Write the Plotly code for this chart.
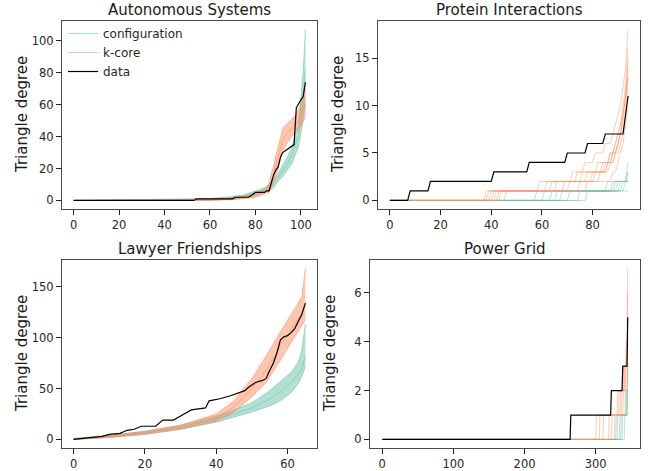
import plotly.graph_objects as go

W, H = 651, 471
GREEN = "102,194,165"
ORANGE = "252,141,98"
FONT = "DejaVu Sans"

# ---------------- data ----------------
# Autonomous Systems
AS_DATA_X = [0, 53, 54, 70, 71, 77, 78, 80, 84, 85, 86, 87, 88, 89, 90, 91, 92, 93, 94, 95, 96, 97, 98, 99, 100, 101, 102]
AS_DATA_Y = [0, 0, 1, 1, 2, 2, 3, 5, 5, 6, 6, 11, 16, 19, 21, 27, 30, 31, 32, 33, 34, 35, 58, 61, 63, 65, 74]
AS_CONF_X = [0, 40, 60, 70, 75, 80, 84, 86, 88, 90, 92, 94, 96, 98, 99, 100, 101, 102]
AS_CONF_LO = [0, 0, 0.3, 1, 2, 3.5, 5, 6, 8, 12, 15, 19, 23, 30, 34, 42, 50, 60]
AS_CONF_MID = [0, 0.2, 0.7, 1.7, 2.7, 4.7, 6.5, 8, 10.5, 14.5, 18.5, 23, 28, 36, 41, 52, 64, 82]
AS_CONF_HI = [0, 0.5, 1.2, 2.5, 3.5, 6, 8, 10, 13, 17, 22, 27, 33, 42, 48, 63, 80, 107]
AS_KC_X = [0, 60, 70, 80, 84, 86, 87, 88, 89, 90, 92, 94, 96, 98, 100, 101, 102]
AS_KC_LO = [0, 0, 0.5, 2, 4, 5, 8, 12, 16, 20, 31, 36, 40, 43, 47, 50, 52]
AS_KC_MID = [0, 0.2, 1, 3, 5.5, 7.5, 12, 16, 22, 27, 38, 42, 45, 48, 53, 57, 61]
AS_KC_HI = [0, 0.5, 1.5, 4, 7, 10, 17, 21, 28, 33, 45, 48, 51, 54, 60, 63, 70]

# Protein Interactions (step curves)
PI_DATA_X = [0, 7, 8, 15, 16, 40, 41, 54, 55, 69, 70, 77, 78, 84, 85, 92, 93, 94]
PI_DATA_Y = [0, 0, 1, 1, 2, 2, 3, 3, 4, 4, 5, 5, 6, 6, 7, 7, 9, 11]
PI_CONF_MEMBERS = [
    ([0, 57, 58, 85, 86, 93, 94], [0, 0, 1, 1, 2, 2, 3]),
    ([0, 63, 64, 89, 90, 93, 94], [0, 0, 1, 1, 2, 2, 4]),
    ([0, 70, 71, 91, 92, 94], [0, 0, 1, 1, 2, 2]),
    ([0, 77, 78, 94], [0, 0, 1, 1]),
    ([0, 60, 61, 87, 88, 93, 94], [0, 0, 1, 1, 2, 2, 3]),
    ([0, 67, 68, 92, 93, 94], [0, 0, 1, 1, 2, 2]),
    ([0, 74, 75, 90, 91, 94], [0, 0, 1, 1, 2, 2]),
    ([0, 65, 66, 88, 89, 94], [0, 0, 1, 1, 2, 2]),
]
PI_KC_MEMBERS = [
    ([0, 37, 38, 58, 59, 71, 72, 76, 77, 80, 81, 84, 85, 87, 88, 89, 90, 91, 92, 93, 94],
     [0, 0, 1, 1, 2, 2, 3, 3, 4, 4, 5, 5, 6, 6, 7, 8, 9, 10, 12, 14, 18]),
    ([0, 41, 42, 65, 66, 77, 78, 83, 84, 86, 87, 88, 89, 90, 91, 92, 93, 94],
     [0, 0, 1, 1, 2, 2, 3, 3, 4, 4, 5, 5, 6, 7, 8, 9, 11, 14]),
    ([0, 45, 46, 77, 78, 87, 88, 89, 90, 91, 92, 93, 94],
     [0, 0, 1, 1, 2, 2, 3, 3, 4, 5, 6, 8, 10]),
    ([0, 39, 40, 70, 71, 82, 83, 86, 87, 88, 89, 90, 91, 92, 93, 94],
     [0, 0, 1, 1, 2, 2, 3, 3, 4, 4, 5, 5, 6, 7, 9, 12]),
    ([0, 43, 44, 74, 75, 80, 81, 85, 86, 87, 88, 89, 90, 91, 92, 93, 94],
     [0, 0, 1, 1, 2, 2, 3, 3, 4, 4, 5, 6, 7, 8, 10, 12, 16]),
    ([0, 38, 39, 61, 62, 75, 76, 84, 85, 87, 88, 89, 90, 91, 92, 93, 94],
     [0, 0, 1, 1, 2, 2, 3, 3, 4, 4, 5, 5, 6, 7, 8, 10, 13]),
    ([0, 42, 43, 68, 69, 79, 80, 85, 86, 88, 89, 90, 91, 92, 93, 94],
     [0, 0, 1, 1, 2, 2, 3, 3, 4, 4, 5, 6, 7, 9, 11, 15]),
    ([0, 40, 41, 63, 64, 73, 74, 81, 82, 86, 87, 89, 90, 91, 92, 93, 94],
     [0, 0, 1, 1, 2, 2, 3, 3, 4, 4, 5, 5, 6, 7, 9, 11, 13]),
]

# Lawyer Friendships
LF_DATA_X = [0, 3, 5, 8, 10, 13, 15, 17, 19, 23, 25, 28, 30, 33, 35, 37, 38, 41, 44, 47, 48, 49, 51, 53, 54, 55, 56, 57, 58, 59, 60, 61, 62, 63, 64, 65]
LF_DATA_Y = [0, 1, 2, 3, 5, 6, 9, 10, 13, 13, 19, 19, 23, 29, 30, 31, 38, 40, 43, 47, 48, 51, 56, 58, 60, 68, 75, 85, 98, 101, 102, 105, 109, 116, 123, 134]
LF_CONF_X = [0, 10, 20, 30, 40, 45, 50, 55, 58, 61, 63, 64, 65]
LF_CONF_LO = [0, 2, 5, 10, 17, 22, 27, 33, 38, 46, 55, 62, 72]
LF_CONF_MID = [0.5, 3, 6.5, 12, 20, 25, 31, 40, 47, 56, 64, 70, 82]
LF_CONF_HI = [1, 4, 8, 14, 23, 29, 36, 48, 57, 66, 76, 88, 114]
LF_KC_X = [0, 10, 20, 30, 40, 45, 50, 54, 58, 62, 64, 65]
LF_KC_LO = [0, 2, 5, 10, 18, 27, 42, 56, 78, 100, 112, 118]
LF_KC_MID = [0.5, 3, 6.5, 12, 21, 32, 50, 68, 92, 113, 124, 135]
LF_KC_HI = [1, 4, 8, 14, 25, 38, 60, 82, 106, 128, 140, 168]

# Power Grid (step curves)
PG_DATA_X = [0, 264, 265, 321, 322, 337, 338, 344, 345]
PG_DATA_Y = [0, 0, 1, 1, 2, 2, 3, 3, 5]
PG_CONF_MEMBERS = [
    ([0, 328, 329, 342, 343, 344, 345], [0, 0, 1, 1, 2, 2, 3]),
    ([0, 333, 334, 344, 345], [0, 0, 1, 1, 2]),
    ([0, 337, 338, 345], [0, 0, 1, 1]),
    ([0, 330, 331, 343, 344, 345], [0, 0, 1, 1, 2, 2]),
    ([0, 340, 341, 345], [0, 0, 1, 1]),
    ([0, 335, 336, 344, 345], [0, 0, 1, 1, 3]),
]
PG_KC_MEMBERS = [
    ([0, 300, 301, 330, 331, 338, 339, 342, 343, 344, 345], [0, 0, 1, 1, 2, 2, 3, 3, 4, 4, 7]),
    ([0, 310, 311, 334, 335, 340, 341, 344, 345], [0, 0, 1, 1, 2, 2, 3, 3, 5]),
    ([0, 318, 319, 338, 339, 342, 343, 344, 345], [0, 0, 1, 1, 2, 2, 3, 3, 4]),
    ([0, 326, 327, 341, 342, 344, 345], [0, 0, 1, 1, 2, 2, 3]),
    ([0, 305, 306, 332, 333, 339, 340, 343, 344, 345], [0, 0, 1, 1, 2, 2, 3, 3, 4, 6]),
    ([0, 322, 323, 336, 337, 341, 342, 344, 345], [0, 0, 1, 1, 2, 2, 3, 3, 4]),
]

TITLES = ["Autonomous Systems", "Protein Interactions", "Lawyer Friendships", "Power Grid"]
X_TICKS = [[0, 20, 40, 60, 80, 100], [0, 20, 40, 60, 80], [0, 20, 40, 60], [0, 100, 200, 300]]
Y_TICKS = [[0, 20, 40, 60, 80, 100], [0, 5, 10, 15], [0, 50, 100, 150], [0, 2, 4, 6]]

# ---------------- layout geometry (page pixels) ----------------
FRAMES = [  # left, right, top, bottom
    (62, 317, 21, 209),
    (378, 640, 21, 209),
    (62, 317, 260, 448),
    (370, 640, 260, 448),
]
X_RANGES = [[-5.1, 107.1], [-4.7, 98.7], [-3.25, 68.25], [-17.25, 362.25]]
Y_RANGES = [[-5.35, 112.35], [-0.9, 18.9], [-8.4, 176.4], [-0.35, 7.35]]


def px(v):
    return v / W


def py(v):
    return 1 - v / H


fig = go.Figure()


def ax_names(i):
    s = "" if i == 0 else str(i + 1)
    return "x" + s, "y" + s


def band(i, xs, lo, mid, hi, rgb, name, legend):
    xa, ya = ax_names(i)
    fig.add_trace(go.Scatter(x=xs + xs[::-1], y=lo + hi[::-1], fill="toself",
                             fillcolor=f"rgba({rgb},0.5)", line=dict(width=0),
                             mode="lines", hoverinfo="skip", showlegend=False,
                             xaxis=xa, yaxis=ya))
    for k, ys in enumerate([lo, hi, mid]):
        fig.add_trace(go.Scatter(x=xs, y=ys, mode="lines",
                                 line=dict(color=f"rgba({rgb},0.55)", width=1),
                                 name=name, showlegend=(legend and k == 2),
                                 xaxis=xa, yaxis=ya))


def members(i, mem, rgb, name):
    xa, ya = ax_names(i)
    for xs, ys in mem:
        fig.add_trace(go.Scatter(x=xs, y=ys, mode="lines",
                                 line=dict(color=f"rgba({rgb},0.45)", width=1),
                                 name=name, showlegend=False, xaxis=xa, yaxis=ya))


def data_line(i, xs, ys, legend):
    xa, ya = ax_names(i)
    fig.add_trace(go.Scatter(x=xs, y=ys, mode="lines", line=dict(color="black", width=1.2),
                             name="data", showlegend=legend, xaxis=xa, yaxis=ya))


band(0, AS_CONF_X, AS_CONF_LO, AS_CONF_MID, AS_CONF_HI, GREEN, "configuration", True)
band(0, AS_KC_X, AS_KC_LO, AS_KC_MID, AS_KC_HI, ORANGE, "k-core", True)
data_line(0, AS_DATA_X, AS_DATA_Y, True)

members(1, PI_CONF_MEMBERS, GREEN, "configuration")
members(1, PI_KC_MEMBERS, ORANGE, "k-core")
data_line(1, PI_DATA_X, PI_DATA_Y, False)

band(2, LF_CONF_X, LF_CONF_LO, LF_CONF_MID, LF_CONF_HI, GREEN, "configuration", False)
band(2, LF_KC_X, LF_KC_LO, LF_KC_MID, LF_KC_HI, ORANGE, "k-core", False)
data_line(2, LF_DATA_X, LF_DATA_Y, False)

members(3, PG_CONF_MEMBERS, GREEN, "configuration")
members(3, PG_KC_MEMBERS, ORANGE, "k-core")
data_line(3, PG_DATA_X, PG_DATA_Y, False)

layout = dict(
    width=W, height=H, margin=dict(l=0, r=0, t=0, b=0, pad=0),
    paper_bgcolor="white", plot_bgcolor="white",
    font=dict(family=FONT, color="#262626"),
    showlegend=True,
    legend=dict(x=px(63), y=py(19), xanchor="left", yanchor="top",
                bgcolor="rgba(0,0,0,0)", font=dict(size=12, family=FONT, color="#262626"),
                itemwidth=30, tracegroupgap=0),
    annotations=[],
)
for i, (l, r, t, b) in enumerate(FRAMES):
    s = "" if i == 0 else str(i + 1)
    common = dict(showline=True, mirror=True, linecolor="#4a4a4a", linewidth=1.2,
                  ticks="outside", ticklen=5, tickwidth=1.3, tickcolor="#222",
                  showgrid=False, zeroline=False,
                  tickfont=dict(size=11.5, family=FONT, color="#262626"))
    layout["xaxis" + s] = dict(domain=[px(l), px(r)], range=X_RANGES[i], tickvals=X_TICKS[i],
                               anchor="y" + s, **common)
    layout["yaxis" + s] = dict(domain=[py(b), py(t)], range=Y_RANGES[i], tickvals=Y_TICKS[i],
                               anchor="x" + s, **common)
    layout["annotations"].append(dict(text=TITLES[i], x=px((l + r) / 2), y=py(t),
                                      xref="paper", yref="paper", xanchor="center", yanchor="bottom",
                                      yshift=0, showarrow=False,
                                      font=dict(size=15, family=FONT, color="#1a1a1a")))
    layout["annotations"].append(dict(text="Triangle degree", x=px(l - 40), y=py((t + b) / 2),
                                      xref="paper", yref="paper", xanchor="center", yanchor="middle",
                                      textangle=-90, showarrow=False,
                                      font=dict(size=15, family=FONT, color="#1a1a1a")))

fig.update_layout(**layout)
# remove the browser's default 8px body margin so the figure sits at the page origin
fig.write_html("out.html", config={"displayModeBar": False},
               post_script="document.body.style.margin='0';")
